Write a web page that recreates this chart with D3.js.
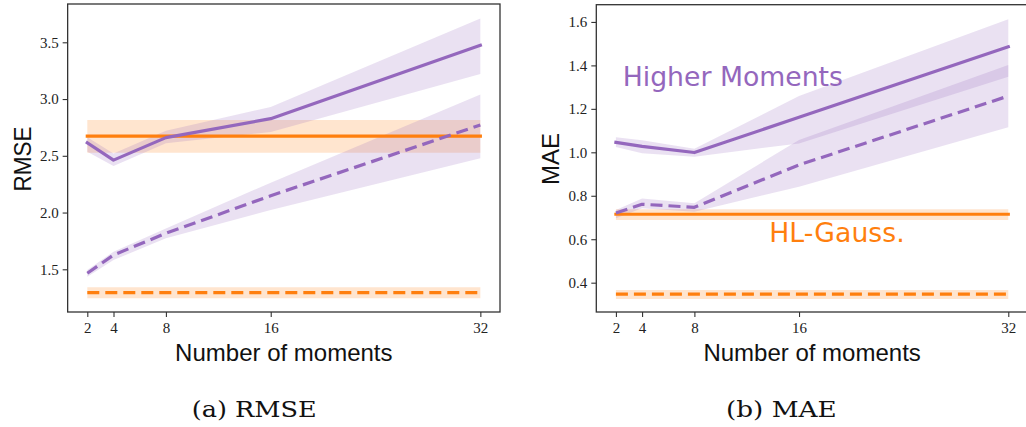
<!DOCTYPE html>
<html>
<head>
<meta charset="utf-8">
<script src="https://cdn.jsdelivr.net/npm/d3@7"></script>
<style>
  body { margin: 0; background: #fff; }
  svg { display: block; }
</style>
</head>
<body>
<div id="chart"></div>
<script>
// x values shared by both panels
const moments = [2, 4, 8, 16, 32];

// RMSE panel
const rmseHmMean  = [2.615, 2.462, 2.660, 2.827, 3.474];
const rmseHmLo    = [2.536, 2.410, 2.610, 2.710, 3.220];
const rmseHmHi    = [2.663, 2.520, 2.720, 2.930, 3.710];
const rmseHmDMean = [1.465, 1.626, 1.817, 2.148, 2.771];
const rmseHmDLo   = [1.435, 1.582, 1.773, 2.022, 2.478];
const rmseHmDHi   = [1.494, 1.655, 1.860, 2.263, 3.040];
const rmseHlMean  = [2.674, 2.674, 2.674, 2.674, 2.674];
const rmseHlLo    = [2.526, 2.526, 2.526, 2.526, 2.526];
const rmseHlHi    = [2.815, 2.815, 2.815, 2.815, 2.815];
const rmseHlDMean = [1.294, 1.294, 1.294, 1.294, 1.294];
const rmseHlDLo   = [1.245, 1.245, 1.245, 1.245, 1.245];
const rmseHlDHi   = [1.341, 1.341, 1.341, 1.341, 1.341];
const rmseTicks = [1.5, 2.0, 2.5, 3.0, 3.5];

// MAE panel
const maeHmMean  = [1.046, 1.027, 0.999, 1.161, 1.486];
const maeHmLo    = [1.024, 0.996, 0.980, 1.041, 1.348];
const maeHmHi    = [1.069, 1.055, 1.016, 1.259, 1.612];
const maeHmDMean = [0.721, 0.761, 0.747, 0.942, 1.259];
const maeHmDLo   = [0.696, 0.742, 0.727, 0.842, 1.115];
const maeHmDHi   = [0.734, 0.788, 0.765, 1.057, 1.402];
const maeHlMean  = [0.715, 0.715, 0.715, 0.715, 0.715];
const maeHlLo    = [0.688, 0.688, 0.688, 0.688, 0.688];
const maeHlHi    = [0.738, 0.738, 0.738, 0.738, 0.738];
const maeHlDMean = [0.347, 0.347, 0.347, 0.347, 0.347];
const maeHlDLo   = [0.325, 0.325, 0.325, 0.325, 0.325];
const maeHlDHi   = [0.366, 0.366, 0.366, 0.366, 0.366];
const maeTicks = [0.4, 0.6, 0.8, 1.0, 1.2, 1.4, 1.6];

const purple = "#9467bd";
const orange = "#ff7f0e";

const svg = d3.select("#chart").append("svg")
  .attr("width", 1026)
  .attr("height", 427);

function zip(ys, lo, hi) {
  return moments.map((m, i) => ({x: m, y: ys[i], lo: lo[i], hi: hi[i]}));
}

function drawPanel(p) {
  const x = d3.scaleLinear().domain([0.5, 33.5]).range([p.left, p.right]);
  const y = d3.scaleLinear().domain(p.ydomain).range([312, p.top]);
  const g = svg.append("g");

  const area = d3.area().x(d => x(d.x)).y0(d => y(d.lo)).y1(d => y(d.hi));
  const line = d3.line().x(d => x(d.x)).y(d => y(d.y));

  // bands first, then lines
  p.series.forEach(s => {
    g.append("path")
      .attr("d", area(s.data))
      .attr("fill", s.color)
      .attr("fill-opacity", 0.2);
  });
  p.series.forEach(s => {
    g.append("path")
      .attr("d", line(s.data))
      .attr("fill", "none")
      .attr("stroke", s.color)
      .attr("stroke-width", 3.2)
      .attr("stroke-linejoin", "round")
      .attr("stroke-linecap", s.dashed ? "butt" : "square")
      .attr("stroke-dasharray", s.dashed ? "12,6" : null);
  });

  // frame
  g.append("rect")
    .attr("x", p.left).attr("y", p.top)
    .attr("width", p.right - p.left).attr("height", 312 - p.top)
    .attr("fill", "none").attr("stroke", "#333").attr("stroke-width", 1.3);

  const xAxis = g.append("g").attr("transform", "translate(0,312)")
    .call(d3.axisBottom(x).tickValues(moments).tickSize(5).tickPadding(5));
  const yAxis = g.append("g").attr("transform", `translate(${p.left},0)`)
    .call(d3.axisLeft(y).tickValues(p.ticks).tickFormat(d3.format(".1f")).tickSize(5).tickPadding(4));
  [xAxis, yAxis].forEach(a => {
    a.select(".domain").remove();
    a.selectAll(".tick line").attr("stroke", "#333").attr("stroke-width", 1.1);
    a.selectAll(".tick text")
      .attr("fill", "#222")
      .style("font-family", "'Liberation Serif', serif")
      .style("font-size", "15px");
  });

  const cx = (p.left + p.right) / 2;
  g.append("text")
    .attr("x", cx).attr("y", 360.7)
    .attr("text-anchor", "middle")
    .style("font-family", "'Liberation Sans', sans-serif")
    .style("font-size", "24px")
    .attr("fill", "#111")
    .text("Number of moments");

  g.append("text")
    .attr("transform", `translate(${p.ylabelX},159) rotate(-90)`)
    .attr("text-anchor", "middle")
    .style("font-family", "'Liberation Sans', sans-serif")
    .style("font-size", "24px")
    .attr("fill", "#111")
    .attr("textLength", p.ylabelLen)
    .attr("lengthAdjust", "spacingAndGlyphs")
    .text(p.ylabel);

  g.append("text")
    .attr("x", p.capX).attr("y", 416.7)
    .style("font-family", "'DejaVu Serif', serif")
    .style("font-size", "22px")
    .attr("fill", "#111")
    .attr("textLength", p.capLen)
    .attr("lengthAdjust", "spacingAndGlyphs")
    .text(p.caption);

  return {x, y, g};
}

drawPanel({
  left: 67.65, right: 500, top: 4,
  ydomain: [1.1238, 3.8374], ticks: rmseTicks,
  ylabel: "RMSE", ylabelX: 30.7, ylabelLen: 65,
  caption: "(a) RMSE", capX: 191.7, capLen: 125,
  series: [
    {color: orange, dashed: false, data: zip(rmseHlMean, rmseHlLo, rmseHlHi)},
    {color: orange, dashed: true,  data: zip(rmseHlDMean, rmseHlDLo, rmseHlDHi)},
    {color: purple, dashed: false, data: zip(rmseHmMean, rmseHmLo, rmseHmHi)},
    {color: purple, dashed: true,  data: zip(rmseHmDMean, rmseHmDLo, rmseHmDHi)}
  ]
});

const right = drawPanel({
  left: 596.3, right: 1027.9, top: 4.7,
  ydomain: [0.2651, 1.6793], ticks: maeTicks,
  ylabel: "MAE", ylabelX: 559.3, ylabelLen: 52,
  caption: "(b) MAE", capX: 726, capLen: 110.7,
  series: [
    {color: orange, dashed: false, data: zip(maeHlMean, maeHlLo, maeHlHi)},
    {color: orange, dashed: true,  data: zip(maeHlDMean, maeHlDLo, maeHlDHi)},
    {color: purple, dashed: false, data: zip(maeHmMean, maeHmLo, maeHmHi)},
    {color: purple, dashed: true,  data: zip(maeHmDMean, maeHmDLo, maeHmDHi)}
  ]
});

// in-plot labels
right.g.append("text")
  .attr("x", 622.7).attr("y", 86)
  .style("font-family", "'DejaVu Sans', sans-serif")
  .style("font-size", "26.7px")
  .attr("fill", purple)
  .text("Higher Moments");
right.g.append("text")
  .attr("x", 769.3).attr("y", 241.7)
  .style("font-family", "'DejaVu Sans', sans-serif")
  .style("font-size", "26.7px")
  .attr("fill", orange)
  .text("HL-Gauss.");
</script>
</body>
</html>
